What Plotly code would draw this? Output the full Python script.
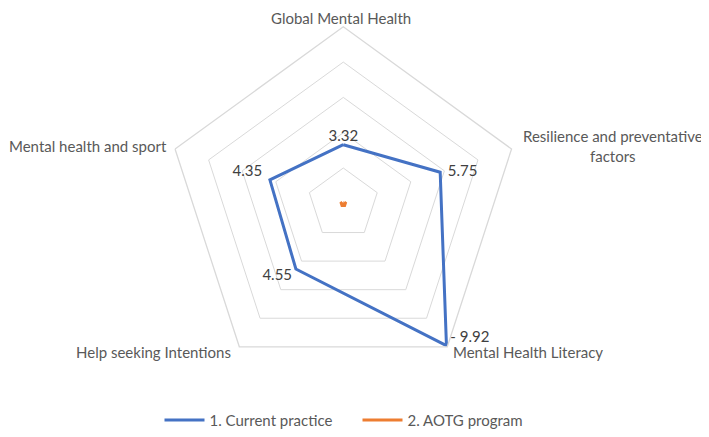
import plotly.graph_objects as go

# radar categories, clockwise from the top
categories = ["Global Mental Health", "Resilience and preventative factors",
              "Mental Health Literacy", "Help seeking Intentions", "Mental health and sport"]
current_practice = [3.32, 5.75, 9.92, 4.55, 4.35]
aotg_program = [0, 0, 0, 0, 0]

blue = "#4472C4"
orange = "#ED7D31"
grey_text = "#595959"
fnt = "Lato, Open Sans, sans-serif"

# page body has an 8px margin, so the figure is 8px smaller each way
W, H = 701, 429

# where each value label sits relative to its point (Excel-like)
label_pos = ["top center", "middle right", "top right", "bottom left", "top left"]
label_txt = [f"{v:.2f}" for v in current_practice]
label_txt = [label_txt[0], "  " + label_txt[1], " - " + label_txt[2],
             label_txt[3] + " ", label_txt[4] + "  "]

theta = categories + categories[:1]

fig = go.Figure()
fig.add_trace(go.Scatterpolar(
    r=current_practice + current_practice[:1], theta=theta,
    mode="lines+text", name="1. Current practice",
    line=dict(color=blue, width=3),
    text=label_txt + [""], textposition=label_pos + ["top center"],
    textfont=dict(color="#404040", size=15, family=fnt),
))
fig.add_trace(go.Scatterpolar(
    r=aotg_program + aotg_program[:1], theta=theta,
    mode="lines", name="2. AOTG program",
    line=dict(color=orange, width=3),
))
# the all-zero series collapses to a dot in the centre
# (plotly hides markers sitting exactly on the centre, so draw it as a thick line)
fig.add_trace(go.Scatterpolar(
    r=aotg_program + aotg_program[:1], theta=theta, mode="lines",
    line=dict(color=orange, width=6), showlegend=False, hoverinfo="skip",
))


def px(x):
    return (x - 8) / W


def py(y):
    return 1 - (y - 8) / H


# category labels placed like Excel does it, just outside the outer ring
cat_labels = [
    (categories[0], px(340.5), 1.0, "center", "top"),
    ("Resilience and preventative<br>factors", px(612.5), py(147.5), "center", "middle"),
    (categories[2], px(452), py(356), "left", "middle"),
    (categories[3], px(232), py(356), "right", "middle"),
    (categories[4], px(168), py(148), "right", "middle"),
]
for txt, ax, ay, xa, ya in cat_labels:
    fig.add_annotation(text=txt, x=ax, y=ay, xref="paper", yref="paper",
                       xanchor=xa, yanchor=ya, align="center",
                       showarrow=False, borderpad=0,
                       font=dict(size=15, color=grey_text, family=fnt))

fig.update_layout(
    width=W, height=H,
    margin=dict(l=0, r=0, t=0, b=0),
    paper_bgcolor="white",
    font=dict(family=fnt, size=15, color=grey_text),
    polar=dict(
        domain=dict(x=[px(164.3), px(522.3)], y=[py(385), py(27)]),
        gridshape="linear",
        bgcolor="white",
        radialaxis=dict(range=[-0.02, 10], tickvals=[2, 4, 6, 8, 10],
                        showticklabels=False, ticks="",
                        showline=False, gridcolor="#D9D9D9", gridwidth=1.3),
        angularaxis=dict(direction="clockwise", rotation=90, showgrid=False,
                         showline=True, linecolor="#D9D9D9", linewidth=1.3,
                         ticks="", showticklabels=False),
    ),
    legend=dict(orientation="h", x=px(159.5), xanchor="left", y=py(425), yanchor="middle",
                font=dict(size=15, color=grey_text, family=fnt), itemwidth=40,
                entrywidth=143),
)

fig.write_html("out.html")
